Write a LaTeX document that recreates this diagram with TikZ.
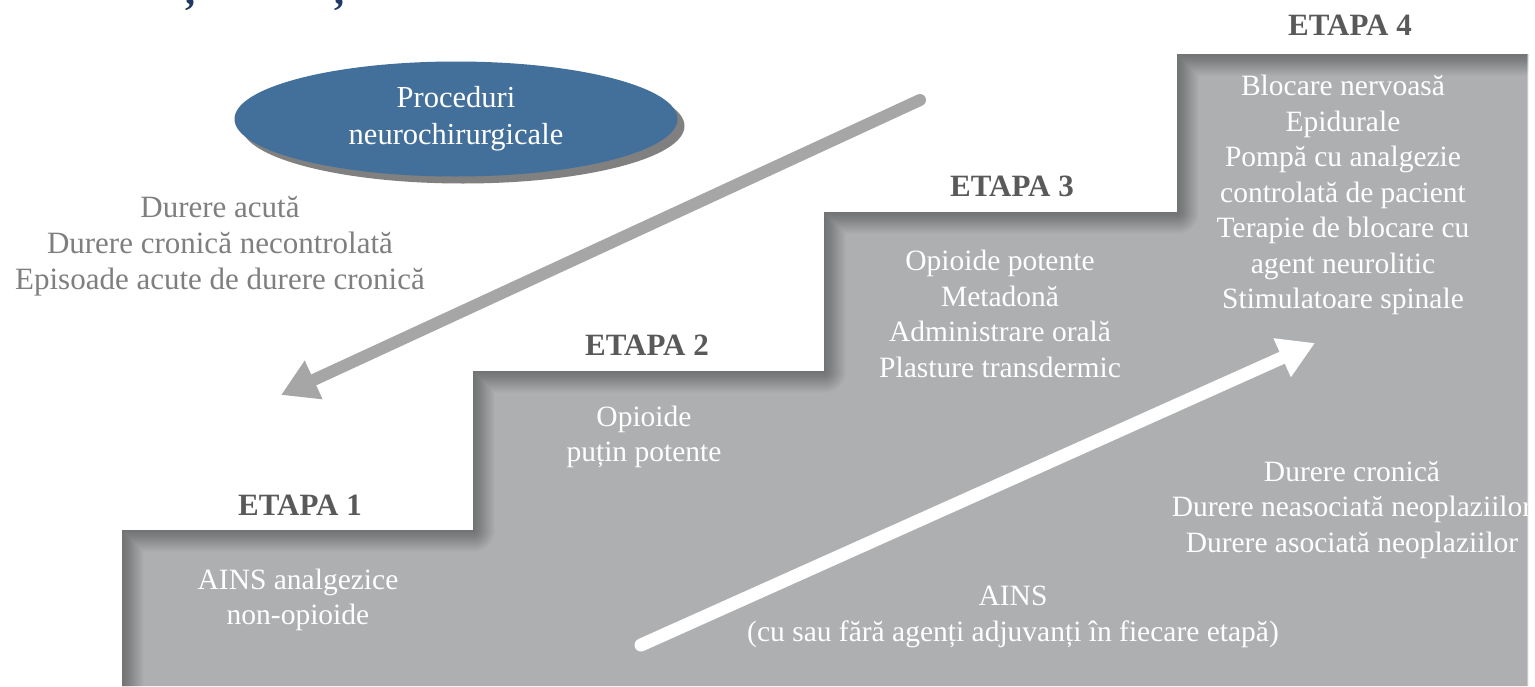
\documentclass[tikz,border=0pt]{standalone}
\usepackage{fontspec}
\setmainfont{Liberation Serif}
\usetikzlibrary{arrows.meta,shadows,shapes.geometric}
\definecolor{stairgray}{RGB}{174,175,177}
\definecolor{ovalblue}{RGB}{67,111,155}
\definecolor{labelgray}{RGB}{89,89,89}
\definecolor{softgray}{RGB}{127,127,127}
\definecolor{arrowgray}{RGB}{166,166,166}
\definecolor{titleblue}{RGB}{31,56,100}
\tikzset{
  bodytext/.style={align=center, font=\fontsize{29.5}{35.5}\selectfont, inner sep=0pt},
  whitetext/.style={bodytext, text=white},
  greytext/.style={align=center, font=\fontsize{31}{36}\selectfont, inner sep=0pt, text=softgray},
  etapa/.style={font=\fontsize{31}{34}\selectfont\bfseries, text=labelgray, inner sep=0pt},
  oval/.style={ellipse, fill=ovalblue, minimum width=443pt, minimum height=115pt, inner sep=0pt,
    text=white, align=center, font=\fontsize{30.5}{37}\selectfont,
    drop shadow={shadow xshift=7pt, shadow yshift=-7pt, fill=gray, opacity=1}},
  bigarrow/.style={line width=12pt, line cap=round, -{Triangle[length=36pt,width=40pt]}},
  titlebit/.style={font=\fontsize{40}{40}\selectfont\bfseries, text=titleblue, inner sep=0pt, anchor=base}
}
\begin{document}
\begin{tikzpicture}[x=1pt,y=-1pt]
\useasboundingbox (0,0) rectangle (1535,686);
\fill[white] (0,0) rectangle (1535,686);
% staircase
\fill[stairgray] (122,686) -- (122,530) -- (473,530) -- (473,371) -- (824,371) -- (824,212)
  -- (1177,212) -- (1177,54) -- (1528,54) -- (1528,686) -- cycle;
\begin{scope}
\clip (122,686) -- (122,530) -- (473,530) -- (473,371) -- (824,371) -- (824,212)
  -- (1177,212) -- (1177,54) -- (1528,54) -- (1528,686) -- cycle;
\foreach \w in {2,4,...,44}
  \draw[line width=\w pt, black, opacity=0.016, line join=round]
    (122,720) -- (122,530) -- (473,530) -- (473,371) -- (824,371) -- (824,212)
    -- (1177,212) -- (1177,54) -- (1600,54);
\draw[line width=3pt, white, opacity=0.35] (1528,54) -- (1528,686);
\end{scope}
% cut-off title marks
\node[titlebit] (t1) at (190,4) {,};
\node[titlebit] (t2) at (339,4) {,};
% oval
\node[oval] (proc) at (456,119) {Proceduri\\neurochirurgicale};
% left grey text
\node[greytext] (acute) at (220,246) {Durere acută\\Durere cronică necontrolată\\Episoade acute de durere cronică};
% stage labels
\node[etapa] (e1) at (300,505) {ETAPA 1};
\node[etapa] (e2) at (647,345) {ETAPA 2};
\node[etapa] (e3) at (1012,186) {ETAPA 3};
\node[etapa] (e4) at (1350,25) {ETAPA 4};
% stage contents
\node[whitetext] (s1) at (298,600) {AINS analgezice\\non-opioide};
\node[whitetext] (s2) at (644,437) {Opioide\\puțin potente};
\node[whitetext] (s3) at (1000,314) {Opioide potente\\Metadonă\\Administrare orală\\Plasture transdermic};
\node[whitetext] (s4) at (1343,195) {Blocare nervoasă\\Epidurale\\Pompă cu analgezie\\controlată de pacient\\Terapie de blocare cu\\agent neurolitic\\Stimulatoare spinale};
\node[whitetext] (chronic) at (1352,510) {Durere cronică\\Durere neasociată neoplaziilor\\Durere asociată neoplaziilor};
\node[whitetext] (ains) at (1013,617) {AINS\\(cu sau fără agenți adjuvanți în fiecare etapă)};
% arrows
\coordinate (gA) at (920,100);
\coordinate (gB) at (281,395);
\draw[bigarrow, arrowgray] (gA) -- (gB);
\coordinate (wA) at (641,645);
\coordinate (wB) at (1315,343);
\draw[bigarrow, white, line width=13pt] (wA) -- (wB);
\end{tikzpicture}
\end{document}
